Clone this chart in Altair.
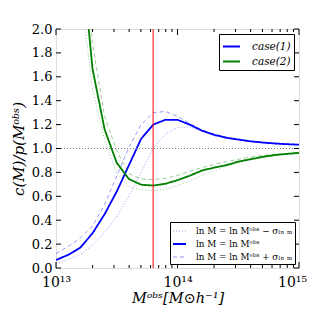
import altair as alt
import pandas as pd

# ---- data ----
log_m = [13.0, 13.1, 13.2, 13.3, 13.4, 13.5, 13.6, 13.7, 13.8, 13.9, 14.0,
         14.1, 14.2, 14.3, 14.4, 14.5, 14.6, 14.7, 14.8, 14.9, 15.0]

blue_nominal = [0.067, 0.11, 0.17, 0.29, 0.45, 0.64, 0.86, 1.08, 1.20, 1.24, 1.24,
                1.20, 1.15, 1.115, 1.09, 1.075, 1.06, 1.05, 1.042, 1.036, 1.032]
blue_plus = [0.12, 0.18, 0.25, 0.35, 0.53, 0.77, 1.01, 1.20, 1.30, 1.31, 1.27,
             1.21, 1.155, 1.12, 1.095, 1.078, 1.063, 1.052, 1.044, 1.038, 1.033]
blue_minus = [0.035, 0.07, 0.115, 0.19, 0.30, 0.43, 0.60, 0.80, 1.00, 1.12, 1.175,
              1.18, 1.145, 1.11, 1.087, 1.072, 1.058, 1.048, 1.04, 1.035, 1.031]

green_nominal = [5.0, 3.8, 2.75, 1.67, 1.16, 0.88, 0.745, 0.697, 0.69, 0.705, 0.735,
                 0.772, 0.815, 0.84, 0.86, 0.89, 0.91, 0.93, 0.945, 0.955, 0.963]
green_plus = [6.0, 4.5, 3.2, 1.88, 1.27, 0.98, 0.79, 0.745, 0.74, 0.75, 0.775,
              0.81, 0.84, 0.865, 0.89, 0.91, 0.928, 0.942, 0.952, 0.959, 0.966]
green_minus = [4.5, 3.4, 2.35, 1.5, 1.07, 0.79, 0.68, 0.655, 0.648, 0.66, 0.69,
               0.73, 0.775, 0.815, 0.85, 0.88, 0.905, 0.925, 0.94, 0.952, 0.962]

case_labels = ["case(1)", "case(2)"]
variant_labels = ["ln M = ln Mᵒᵇˢ − σₗₙ ₘ", "ln M = ln Mᵒᵇˢ", "ln M = ln Mᵒᵇˢ + σₗₙ ₘ"]

red_line_m = [6.3e13]
ref_level = [1.0]

ytick_vals = [0.0, 0.2, 0.4, 0.6, 0.8, 1.0, 1.2, 1.4, 1.6, 1.8, 2.0]
xtick_major = [1e13, 1e14, 1e15]
xtick_labels = ["10¹³", "10¹⁴", "10¹⁵"]
xtick_minor = [2e13, 3e13, 4e13, 5e13, 6e13, 7e13, 8e13, 9e13,
               2e14, 3e14, 4e14, 5e14, 6e14, 7e14, 8e14, 9e14]

# ---- build table ----
series = {
    (case_labels[0], variant_labels[0]): blue_minus,
    (case_labels[0], variant_labels[1]): blue_nominal,
    (case_labels[0], variant_labels[2]): blue_plus,
    (case_labels[1], variant_labels[0]): green_minus,
    (case_labels[1], variant_labels[1]): green_nominal,
    (case_labels[1], variant_labels[2]): green_plus,
}
rows = []
for (case, var), vals in series.items():
    for lm, v in zip(log_m, vals):
        rows.append({"M": 10 ** lm, "value": v, "case": case, "variant": var,
                     "rank": 1 if var == variant_labels[1] else 0})
df = pd.DataFrame(rows)

W, H = 243, 239
FONT = "DejaVu Serif"
XTITLE = "Mᵒᵇˢ[M⊙h⁻¹]"
YTITLE = "c(M)/p(Mᵒᵇˢ)"

xscale = alt.Scale(type="log", domain=[1e13, 1e15], nice=False)
yscale = alt.Scale(domain=[0, 2], nice=False, zero=False)

label_expr = " : ".join(
    f"datum.value == {v:.0f} ? '{t}'" for v, t in zip(xtick_major[:-1], xtick_labels[:-1])
) + f" : '{xtick_labels[-1]}'"

xaxis = alt.Axis(values=xtick_major, labelExpr=label_expr, ticks=False, domain=False,
                 grid=False, labelFont=FONT, labelFontSize=14, labelPadding=7,
                 labelOffset={"condition": {"test": f"datum.value == {xtick_major[-1]:.0f}",
                                            "value": -7}, "value": 0},
                 labelFlush=False, labelOverlap=False, labelColor="black",
                 titleFont=FONT, titleFontSize=14.5, titleFontWeight="normal",
                 titleFontStyle="italic", titleColor="black", titlePadding=2)
yaxis = alt.Axis(values=ytick_vals, format=".1f", ticks=False, domain=False, grid=False,
                 labelFont=FONT, labelFontSize=13, labelPadding=4, labelFlush=False,
                 labelOverlap=False, labelColor="black",
                 titleFont=FONT, titleFontSize=15, titleFontWeight="normal",
                 titleFontStyle="italic", titleColor="black", titlePadding=5)

leg_case = alt.Legend(title=None, orient="top-right", offset=5, strokeColor="black",
                      fillColor="white", padding=3, cornerRadius=0,
                      labelFont=FONT, labelFontStyle="italic", labelFontSize=10.5,
                      labelColor="black", symbolType="stroke", symbolSize=289,
                      symbolStrokeWidth=2, rowPadding=0, labelOffset=11)
leg_var = alt.Legend(title=None, orient="bottom-right", offset=4, strokeColor="black",
                     fillColor="white", padding=2, cornerRadius=0,
                     labelFont=FONT, labelFontSize=8.8, labelColor="black",
                     symbolType="stroke", symbolSize=169, symbolStrokeColor="blue",
                     rowPadding=0.5, labelOffset=9, labelLimit=300)

X = lambda f: alt.X(f, scale=xscale, axis=xaxis, title=XTITLE)
Y = lambda f: alt.Y(f, scale=yscale, axis=yaxis, title=YTITLE)

lines = alt.Chart(df).mark_line(clip=True).encode(
    x=X("M:Q"),
    y=Y("value:Q"),
    color=alt.Color("case:N", scale=alt.Scale(domain=case_labels, range=["#0000ff", "#008000"]),
                    legend=leg_case),
    strokeDash=alt.StrokeDash("variant:N", scale=alt.Scale(type="ordinal", domain=variant_labels,
                              range=[[1, 2], [1, 0], [4, 3]]), legend=leg_var),
    opacity=alt.Opacity("variant:N", scale=alt.Scale(type="ordinal", domain=variant_labels,
                        range=[0.45, 1.0, 0.45]), legend=leg_var),
    strokeWidth=alt.StrokeWidth("variant:N", scale=alt.Scale(type="ordinal", domain=variant_labels,
                                range=[0.9, 1.8, 0.9]), legend=leg_var),
    order=alt.Order("rank:Q"),
)

hline = alt.Chart(pd.DataFrame({"v": ref_level})).mark_rule(
    color="#777777", strokeDash=[1, 2], strokeWidth=1).encode(y=Y("v:Q"))

vline = alt.Chart(pd.DataFrame({"M": red_line_m})).mark_rule(
    color="#ff0000", strokeWidth=1).encode(x=X("M:Q"))

ydf = pd.DataFrame({"v": ytick_vals})
yt_left = alt.Chart(ydf).mark_rule(color="black", strokeWidth=1).encode(
    y=Y("v:Q"), x=alt.value(0), x2=alt.value(5))
yt_right = alt.Chart(ydf).mark_rule(color="black", strokeWidth=1).encode(
    y=Y("v:Q"), x=alt.value(W), x2=alt.value(W - 5))

xmaj = pd.DataFrame({"M": xtick_major})
xmin = pd.DataFrame({"M": xtick_minor})
def xticks(d, y0, y1):
    return alt.Chart(d).mark_rule(color="black", strokeWidth=1).encode(
        x=X("M:Q"), y=alt.value(y0), y2=alt.value(y1))

tick_layers = [yt_left, yt_right,
               xticks(xmaj, H, H - 6), xticks(xmaj, 0, 6),
               xticks(xmin, H, H - 3), xticks(xmin, 0, 3)]

chart = alt.layer(lines, hline, vline, *tick_layers).properties(
    width=W, height=H,
    padding={"left": 48, "top": 21, "right": 8, "bottom": 39},
    autosize="none",
).configure_view(stroke="black", strokeWidth=1.2).configure(background="white")

chart.save("out.html", embed_options={"renderer": "svg", "actions": False})
